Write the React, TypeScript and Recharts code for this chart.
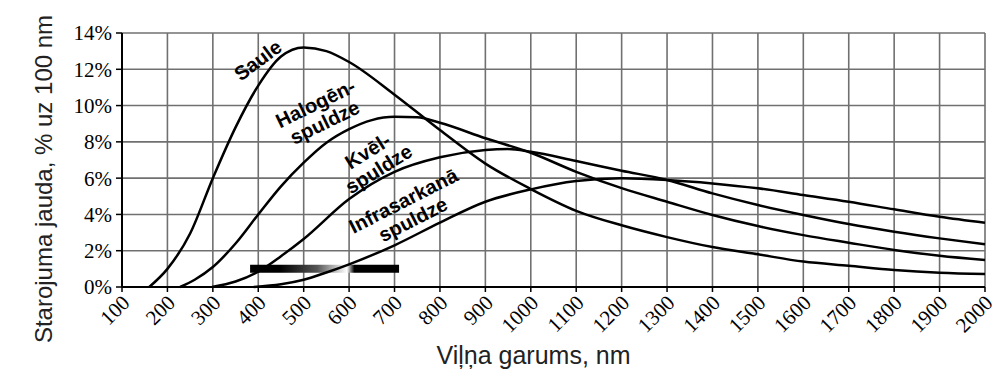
import {
  LineChart,
  Line,
  XAxis,
  YAxis,
  CartesianGrid,
  ReferenceArea,
  ReferenceDot,
} from "recharts";

// wavelength, nm -> share of radiated power, % per 100 nm
const saule = [
  [160, 0], [200, 1.0], [250, 2.95], [300, 6.0], [350, 8.8], [400, 11.1],
  [450, 12.7], [500, 13.2], [550, 13.0], [600, 12.4], [700, 10.6],
  [800, 8.65], [900, 6.8], [1000, 5.4], [1100, 4.2], [1200, 3.4],
  [1300, 2.75], [1400, 2.2], [1500, 1.8], [1600, 1.4], [1700, 1.17],
  [1800, 0.94], [1900, 0.79], [2000, 0.72],
];

const halogen = [
  [228, 0], [260, 0.4], [300, 1.1], [350, 2.4], [400, 4.0], [450, 5.55],
  [500, 6.85], [550, 7.95], [600, 8.7], [650, 9.2], [700, 9.38], [750, 9.35],
  [800, 9.05], [900, 8.2], [1000, 7.4], [1100, 6.35], [1200, 5.45],
  [1300, 4.7], [1400, 3.97], [1500, 3.36], [1600, 2.86], [1700, 2.44],
  [1800, 2.04], [1900, 1.72], [2000, 1.49],
];

const kvel = [
  [298, 0], [350, 0.3], [400, 0.85], [450, 1.7], [500, 2.65], [600, 4.85],
  [700, 6.35], [800, 7.15], [900, 7.55], [950, 7.6], [1000, 7.45],
  [1100, 6.94], [1200, 6.41], [1300, 5.9], [1400, 5.16], [1500, 4.52],
  [1600, 3.97], [1700, 3.47], [1800, 3.05], [1900, 2.68], [2000, 2.35],
];

const infrared = [
  [390, 0], [450, 0.15], [500, 0.4], [550, 0.8], [600, 1.25], [700, 2.3],
  [800, 3.55], [900, 4.7], [1000, 5.38], [1100, 5.84], [1200, 5.99],
  [1300, 5.9], [1400, 5.71], [1500, 5.44], [1600, 5.07], [1700, 4.7],
  [1800, 4.28], [1900, 3.87], [2000, 3.54],
];

const xTicks = [
  100, 200, 300, 400, 500, 600, 700, 800, 900, 1000,
  1100, 1200, 1300, 1400, 1500, 1600, 1700, 1800, 1900, 2000,
];
const yTicks = [0, 2, 4, 6, 8, 10, 12, 14];

const toData = (pts: number[][]) => pts.map(([nm, p]) => ({ nm, p }));

const serif = "'Liberation Serif', 'Times New Roman', serif";
const sans = "'Liberation Sans', Arial, sans-serif";

const XTick = ({ x, y, payload }: any) => (
  <text
    x={x + 9}
    y={y + 10}
    transform={`rotate(-45 ${x + 9} ${y + 10})`}
    textAnchor="end"
    fontFamily={serif}
    fontSize={21}
    fill="#000"
  >
    {payload.value}
  </text>
);

const curveLabel = (lines: string[], angle: number) => (props: any) => {
  const vb = props.viewBox;
  const cx = vb.x + vb.width / 2;
  const cy = vb.y + vb.height / 2;
  const step = 21;
  const y0 = cy - ((lines.length - 1) * step) / 2;
  return (
    <text
      transform={`rotate(${angle} ${cx} ${cy})`}
      textAnchor="middle"
      fontFamily={sans}
      fontWeight="bold"
      fontSize={20}
      fill="#000"
    >
      {lines.map((l, i) => (
        <tspan key={i} x={cx} y={y0 + i * step} dy="0.35em">
          {l}
        </tspan>
      ))}
    </text>
  );
};

export default function App() {
  return (
    <LineChart
      width={992}
      height={365}
      margin={{ top: 25, right: 15, bottom: 26, left: 50 }}
    >
      <defs>
        <linearGradient id="spectrum" x1="0" y1="0" x2="1" y2="0">
          <stop offset="0" stopColor="#000" />
          <stop offset="0.2" stopColor="#000" />
          <stop offset="0.45" stopColor="#555" />
          <stop offset="0.65" stopColor="#fff" />
          <stop offset="0.7" stopColor="#000" />
          <stop offset="1" stopColor="#000" />
        </linearGradient>
      </defs>
      <CartesianGrid stroke="#707070" strokeWidth={1.6} />
      <XAxis
        dataKey="nm"
        type="number"
        domain={[100, 2000]}
        ticks={xTicks}
        interval={0}
        height={60}
        axisLine={{ stroke: "#000", strokeWidth: 2 }}
        tickLine={{ stroke: "#000", strokeWidth: 1.5 }}
        tickSize={5}
        tick={<XTick />}
        label={{
          content: (p: any) => (
            <text
              x={p.viewBox.x + p.viewBox.width / 2 - 20}
              y={p.viewBox.y + 77}
              textAnchor="middle"
              fontFamily={sans}
              fontSize={25}
              fill="#222"
            >
              Viļņa garums, nm
            </text>
          ),
        }}
      />
      <YAxis
        type="number"
        domain={[0, 14]}
        ticks={yTicks}
        interval={0}
        width={64}
        axisLine={{ stroke: "#000", strokeWidth: 2 }}
        tickLine={{ stroke: "#000", strokeWidth: 1.5 }}
        tickSize={6}
        tickMargin={4}
        tickFormatter={(v: number) => `${v}%`}
        tick={{ fontFamily: serif, fontSize: 21, fill: "#000" }}
        label={{
          content: (p: any) => {
            const x = p.viewBox.x - 15;
            const y = p.viewBox.y + p.viewBox.height / 2 + 19;
            return (
              <text
                x={x}
                y={y}
                transform={`rotate(-90 ${x} ${y})`}
                textAnchor="middle"
                dominantBaseline="central"
                fontFamily={sans}
                fontSize={24}
                fill="#222"
              >
                Starojuma jauda, % uz 100 nm
              </text>
            );
          },
        }}
      />
      <Line data={toData(saule)} dataKey="p" type="monotone" stroke="#000" strokeWidth={2.5} dot={false} isAnimationActive={false} />
      <Line data={toData(halogen)} dataKey="p" type="monotone" stroke="#000" strokeWidth={2.5} dot={false} isAnimationActive={false} />
      <Line data={toData(kvel)} dataKey="p" type="monotone" stroke="#000" strokeWidth={2.5} dot={false} isAnimationActive={false} />
      <Line data={toData(infrared)} dataKey="p" type="monotone" stroke="#000" strokeWidth={2.5} dot={false} isAnimationActive={false} />
      <ReferenceArea x1={382} x2={710} y1={0.78} y2={1.22} fill="url(#spectrum)" fillOpacity={1} stroke="none" />
      <ReferenceDot x={399} y={12.5} r={1} fill="none" stroke="none" label={curveLabel(["Saule"], -37)} />
      <ReferenceDot x={536} y={9.6} r={1} fill="none" stroke="none" label={curveLabel(["Halogēn-", "spuldze"], -26)} />
      <ReferenceDot x={653} y={7.0} r={1} fill="none" stroke="none" label={curveLabel(["Kvēl-", "spuldze"], -32)} />
      <ReferenceDot x={730} y={4.24} r={1} fill="none" stroke="none" label={curveLabel(["Infrasarkanā", "spuldze"], -27)} />
    </LineChart>
  );
}
